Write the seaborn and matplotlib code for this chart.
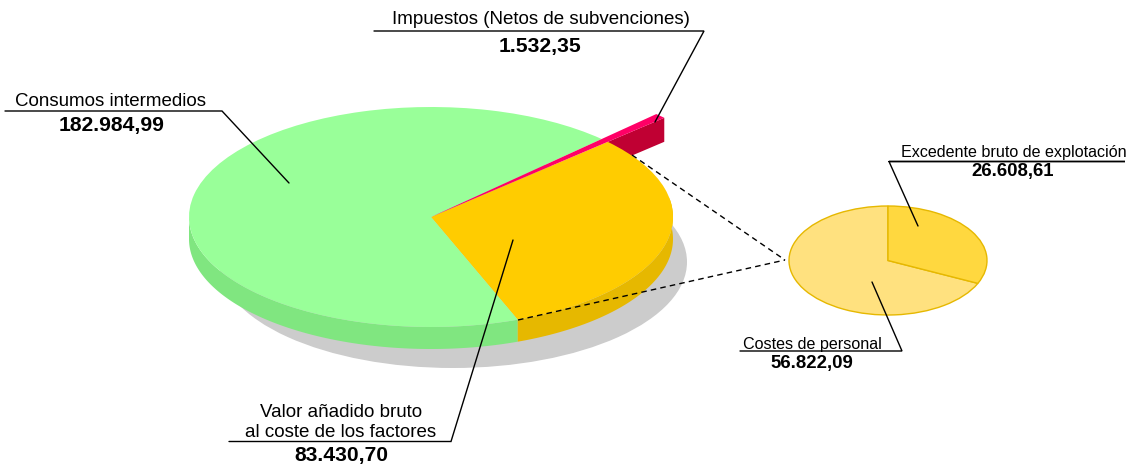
import numpy as np
import matplotlib
matplotlib.use("Agg")
import matplotlib.pyplot as plt
from matplotlib.patches import Ellipse
from matplotlib.transforms import Affine2D
import seaborn as sns

main_labels = ["Valor añadido bruto\nal coste de los factores", "Impuestos (Netos de subvenciones)", "Consumos intermedios"]
main_values = [83430.70, 1532.35, 182984.99]
main_texts = ["83.430,70", "1.532,35", "182.984,99"]
main_colors = ["#FFCC00", "#FF0066", "#99FF99"]
side_colors = ["#E6B800", "#C00033", "#80E680"]
sub_labels = ["Costes de personal", "Excedente bruto de explotación"]
sub_values = [56822.09, 26608.61]
sub_texts = ["56.822,09", "26.608,61"]
sub_colors = ["#FFE17F", "#FFD83F"]

sns.set_theme(style="white")
plt.rcParams["font.family"] = ["Liberation Sans", "DejaVu Sans"]

W, H = 1131, 466
fig = plt.figure(figsize=(W / 100, H / 100), dpi=100, facecolor="white")
ax = fig.add_axes([0, 0, 1, 1])

CX, CY, RX, RY, DEPTH = 431, 217, 242, 110, 22
START = -69.0
EXPLODE = 1.32


def ell(cx, cy, rx, ry):
    return Affine2D().scale(rx, -ry).translate(cx, cy) + ax.transData


def pt(theta, r=1.0):
    t = np.radians(theta)
    return CX + r * RX * np.cos(t), CY - r * RY * np.sin(t)


fractions = np.array(main_values) / sum(main_values)
edges = START + 360 * np.concatenate([[0], np.cumsum(fractions)])

# shadow
ax.add_patch(Ellipse((453, 262), 2 * 234, 2 * 106, fc="#CCCCCC", ec="none", zorder=1))

# extruded rim: green then yellow, only the front half is visible
arcs = [(180.0, edges[0] + 360, side_colors[2]), (edges[0] + 360, 360.0 + 10, side_colors[0])]
for a, b, c in arcs:
    th = np.linspace(a, b, 120)
    x, y = pt(th)
    ax.fill(np.r_[x, x[::-1]], np.r_[y, (y + DEPTH)[::-1]], color=c, lw=0, zorder=2)

# radial wall of the pulled-out tax slice
th = edges[1]
x0, y0 = pt(th, EXPLODE)
x1, y1 = pt(th, 1.0)
ax.fill([x0, x0, x1, x1], [y0, y0 + DEPTH + 2, y1 + DEPTH + 2, y1], color=side_colors[1], lw=0, zorder=2)

# top surface
wedges, _ = ax.pie(main_values, colors=main_colors, startangle=START, counterclock=True,
                   wedgeprops=dict(transform=ell(CX, CY, RX, RY), linewidth=0, zorder=3))
wedges[1].set_radius(EXPLODE)
wedges[1].set_zorder(3.5)

# detail pie
SX, SY, SRX, SRY = 888, 260.5, 99, 54.5
sub_wedges, _ = ax.pie(sub_values, colors=sub_colors, startangle=90, counterclock=True,
                       wedgeprops=dict(linewidth=1, edgecolor="#E6B800", zorder=3))
for w in sub_wedges:
    w.set_transform(ell(SX, SY, SRX, SRY))

ax.set_aspect("auto")
ax.set_xlim(0, W)
ax.set_ylim(H, 0)
ax.set_axis_off()

# dashed connectors
for xa, ya in [(632, 155), (518, 320)]:
    ax.plot([xa, 785], [ya, 260], color="black", lw=1.0, ls=(0, (4, 3)), zorder=5)

# leader lines
leaders = [
    [(374, 31), (704, 31), (655, 122)],
    [(5, 111), (222, 111), (289, 183)],
    [(229, 441.5), (451, 441.5), (513, 240)],
    [(889, 161.5), (1125, 161.5), (889, 161.5), (918, 226)],
    [(740, 351), (902, 351), (872, 282)],
]
for pts in leaders:
    xs, ys = zip(*pts)
    ax.plot(xs, ys, color="black", lw=1.0, zorder=6, solid_joinstyle="miter")


def name(x, y, s, size=13.5):
    ax.text(x, y, s, ha="center", va="center", fontsize=size, color="black", zorder=7, linespacing=1.3)


def value(x, y, s, size=15.2):
    ax.text(x, y, s, ha="center", va="center", fontsize=size, fontweight="bold", color="black", zorder=7)


name(541, 20, main_labels[1])
value(540, 46.5, main_texts[1])
name(110.5, 101, main_labels[2])
value(112, 125, main_texts[2])
name(341, 422.5, main_labels[0])
value(341, 455.5, main_texts[0])
name(1013.5, 153, sub_labels[1], 11.6)
value(1013, 171.5, sub_texts[1], 13.4)
name(812, 344, sub_labels[0], 11.6)
value(812, 363.5, sub_texts[0], 13.4)

fig.savefig("out.png", dpi=100, facecolor="white")
